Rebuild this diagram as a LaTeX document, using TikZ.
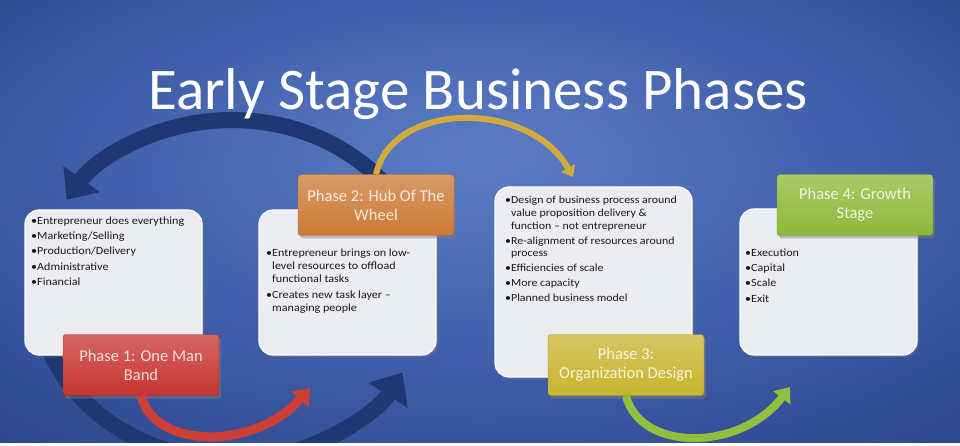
\documentclass[tikz,border=0pt]{standalone}
\usepackage{fontspec}
\setmainfont{Carlito}
\newfontfamily\listfont[FakeStretch=1.1]{Carlito}
\usetikzlibrary{arrows.meta,shadows}

\definecolor{bgdark}{RGB}{22,40,100}
\definecolor{bgmid}{RGB}{62,92,168}
\definecolor{bglight}{RGB}{92,126,198}
\definecolor{boxfill}{RGB}{236,237,241}
\definecolor{arcblue}{RGB}{30,56,114}
\definecolor{phaseone}{RGB}{198,52,48}
\definecolor{phasetwo}{RGB}{204,122,52}
\definecolor{phasethree}{RGB}{200,180,45}
\definecolor{phasefour}{RGB}{142,184,56}
\definecolor{redarrow}{RGB}{205,62,55}
\definecolor{goldarrow}{RGB}{212,170,60}
\definecolor{greenarrow}{RGB}{145,192,62}

\pgfdeclareradialshading{slidebg}{\pgfpoint{0bp}{8bp}}{color(0bp)=(bglight); color(22bp)=(bgmid); color(60bp)=(bgdark)}

\begin{document}
\begin{tikzpicture}[x=1pt, y=-1pt,
    listbox/.style={draw=white, line width=1.2pt, fill=boxfill, rounded corners=14pt,
        drop shadow={shadow xshift=2pt, shadow yshift=-2pt, opacity=.35}},
    listtext/.style={anchor=north west, inner sep=0pt, align=left,
        font=\listfont\fontsize{11}{13}\selectfont, text=black!90},
    phasebox/.style={draw=#1!80!black, rounded corners=3pt, minimum width=156pt,
        minimum height=61pt, align=center, top color=#1!75!white, bottom color=#1,
        text=white!85!#1, font=\fontsize{16.5}{19}\selectfont,
        drop shadow={shadow xshift=2pt, shadow yshift=-3pt, opacity=.45}},
    phasearrow/.style={line width=#1, -{Triangle[width=0pt 2.6, length=0pt 1.7]}}
]
    \useasboundingbox (0,0) rectangle (960,446);
    \clip (0,0) rectangle (960,446);
    \shade[shading=slidebg] (0,0) rectangle (960,446);

    \begin{scope}[shift={(232,290)}, arcblue]
        \draw[line width=16pt, -{Triangle[width=0pt 2.7, length=0pt 1.6]}]
            (-40:195 and 170) arc[start angle=-40, end angle=-148, x radius=195, y radius=170];
        \draw[line width=16pt, -{Triangle[width=0pt 2.8, length=0pt 1.7]}]
            (160:195 and 170) arc[start angle=160, end angle=29, x radius=195, y radius=170];
    \end{scope}

    \node[listbox, minimum width=177pt, minimum height=145pt] (b1) at (113.5,282.5) {};
    \node[listbox, minimum width=177pt, minimum height=145pt] (b2) at (347.5,282.5) {};
    \node[listbox, minimum width=197pt, minimum height=190pt] (b3) at (593.5,282) {};
    \node[listbox, minimum width=177pt, minimum height=146pt] (b4) at (828.5,282) {};

    \node[listtext] (t1) at (31,216.5) {•Entrepreneur does everything\\[2.3pt]
        •Marketing/Selling\\[2.3pt] •Production/Delivery\\[2.3pt]
        •Administrative\\[2.3pt] •Financial};
    \node[listtext] (t2) at (266,248.5) {•Entrepreneur brings on low-\\
        \phantom{•}level resources to offload\\ \phantom{•}functional tasks\\[3pt]
        •Creates new task layer –\\ \phantom{•}managing people};
    \node[listtext, font=\listfont\fontsize{10.8}{12.8}\selectfont] (t3) at (505,196)
        {•Design of business process around\\
        \phantom{•}value proposition delivery \&\\ \phantom{•}function – not entrepreneur\\[2pt]
        •Re-alignment of resources around\\ \phantom{•}process\\[2pt]
        •Efficiencies of scale\\[2pt] •More capacity\\[2pt] •Planned business model};
    \node[listtext] (t4) at (745,248.5) {•Execution\\[2.3pt] •Capital\\[2.3pt]
        •Scale\\[2.3pt] •Exit};

    \node[phasebox=phaseone] (p1) at (141,365) {Phase 1: One Man\\Band};
    \node[phasebox=phasetwo] (p2) at (376,205) {Phase 2: Hub Of The\\Wheel};
    \node[phasebox=phasethree] (p3) at (626,365) {Phase 3:\\Organization Design};
    \node[phasebox=phasefour] (p4) at (855,205) {Phase 4: Growth\\Stage};

    \coordinate (r1) at (310,388);
    \coordinate (g1) at (573,177);
    \coordinate (v1) at (790,387);
    \draw[phasearrow=9pt, redarrow] (p1.south) .. controls (155,450) and (255,450) .. (r1);
    \draw[phasearrow=6pt, goldarrow] (p2.north) .. controls (393,100) and (530,100) .. (g1);
    \draw[phasearrow=8pt, greenarrow] (p3.south) .. controls (640,452) and (740,452) .. (v1);

    \node[anchor=base, text=white, font=\fontsize{59}{70}\selectfont] (title) at (478,110)
        {Early Stage Business Phases};
    \fill[white] (0,443) rectangle (960,446);
\end{tikzpicture}
\end{document}
